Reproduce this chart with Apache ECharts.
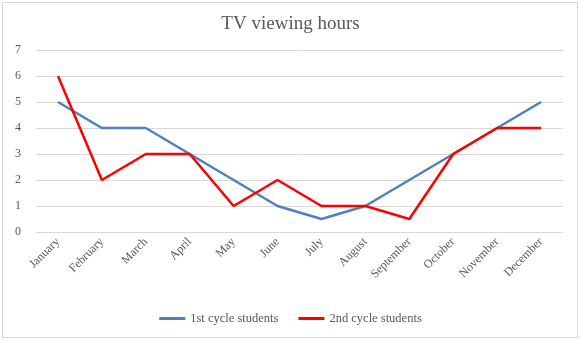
<!DOCTYPE html>
<html><head><meta charset="utf-8">
<script src="https://cdn.jsdelivr.net/npm/echarts@6/dist/echarts.min.js"></script>
<style>html,body{margin:0;padding:0;background:#fff}#c{width:581px;height:341px}
#frame{position:absolute;left:2px;top:2px;width:574px;height:334px;border:1px solid #d9d9d9;pointer-events:none}</style>
</head><body><div id="c"></div><div id="frame"></div>
<script>
const months = ["January","February","March","April","May","June","July","August","September","October","November","December"];
const firstCycle = [5,4,4,3,2,1,0.5,1,2,3,4,5];
const secondCycle = [6,2,3,3,1,2,1,1,0.5,3,4,4];
const yTicks = [0,1,2,3,4,5,6,7];
const font = "'Liberation Serif', 'DejaVu Serif', serif";
const chart = echarts.init(document.getElementById('c'), null, {renderer:'canvas'});
chart.setOption({
  animation:false,
  title:{text:"TV viewing hours",left:'center',top:10,textStyle:{fontFamily:font,fontSize:19,fontWeight:'normal',color:'#595959'}},
  grid:{left:36,right:18,top:50,bottom:109,containLabel:false},
  legend:{bottom:11,left:'center',itemWidth:26,itemHeight:3,itemGap:20,icon:'rect',
    textStyle:{fontFamily:font,fontSize:12.5,color:'#595959'},data:["1st cycle students","2nd cycle students"]},
  xAxis:{type:'category',data:months,boundaryGap:true,
    axisLine:{show:false},axisTick:{show:false},
    axisLabel:{rotate:45,fontFamily:font,fontSize:12,color:'#595959',margin:8,interval:0}},
  yAxis:{type:'value',min:yTicks[0],max:yTicks[yTicks.length-1],interval:1,
    axisLine:{show:false},axisTick:{show:false},
    axisLabel:{fontFamily:font,fontSize:12,color:'#595959',margin:15},
    splitLine:{lineStyle:{color:'#d9d9d9',width:1}}},
  series:[
    {name:"1st cycle students",type:'line',data:firstCycle,symbol:'none',lineStyle:{color:'#4f81bd',width:2.5},itemStyle:{color:'#4f81bd'}},
    {name:"2nd cycle students",type:'line',data:secondCycle,symbol:'none',lineStyle:{color:'#ff0000',width:2.5},itemStyle:{color:'#ff0000'}}
  ]
});
</script></body></html>
